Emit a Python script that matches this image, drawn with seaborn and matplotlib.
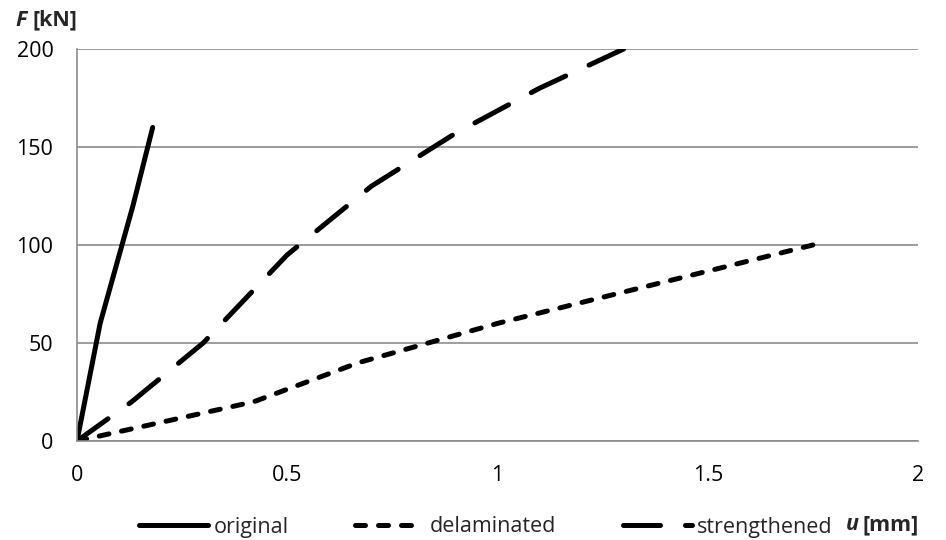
import matplotlib
matplotlib.use("Agg")
import matplotlib.pyplot as plt
import seaborn as sns
import pandas as pd
import numpy as np
from matplotlib.lines import Line2D

# ---- data ----
orig_u = [0.0, 0.055, 0.133, 0.18]
orig_F = [0, 60, 120, 160]

delam_u = [0.0, 0.42, 0.67, 1.0, 1.75]
delam_F = [0, 20, 40, 60, 100]

streng_u = [0.0, 0.13, 0.3, 0.5, 0.7, 0.9, 1.1, 1.3]
streng_F = [0, 20, 50, 95, 130, 157, 180, 200]

series_names = ["original", "delaminated", "strengthened"]
x_ticks = [0, 0.5, 1, 1.5, 2]
x_tick_labels = ["0", "0.5", "1", "1.5", "2"]
y_ticks = [0, 50, 100, 150, 200]

sns.set_style("white")
plt.rcParams["font.family"] = ["Open Sans", "DejaVu Sans"]

FS = 15.5
W, H = 946, 540
DPI = 100
fig = plt.figure(figsize=(W / DPI, H / DPI), dpi=DPI)
ax = fig.add_axes([77 / W, 1 - 441 / H, (918 - 77) / W, (441 - 49) / H])

gray = "#8c8c8c"
lw = 3.6
patterns = [None, (2.0, 2.6), (7.4, 5.0)]
datasets = [(orig_u, orig_F), (delam_u, delam_F), (streng_u, streng_F)]

ax.set_xlim(0, 2)
ax.set_ylim(0, 200)

handles = []
for name, (u, F), pat in zip(series_names, datasets, patterns):
    df = pd.DataFrame({"u": u, "F": F})
    ls = "-" if pat is None else (0, pat)
    sns.lineplot(data=df, x="u", y="F", ax=ax, color="black", lw=lw,
                 sort=False, estimator=None, linestyle=ls)
    line = ax.lines[-1]
    line.set_dash_capstyle("round")
    line.set_solid_capstyle("round")
    line.set_solid_joinstyle("round")
    line.set_dash_joinstyle("round")
    if pat is not None:
        # stretch the dash pattern slightly so the line ends on a dash
        pts = ax.transData.transform(np.column_stack([u, F]))
        L = np.sum(np.hypot(*np.diff(pts, axis=0).T)) * 72 / DPI  # points
        d, g = pat[0] * lw, pat[1] * lw
        n = max(1, round((L - d) / (d + g)))
        s = L / (n * (d + g) + d)
        line.set_linestyle((0, (pat[0] * s, pat[1] * s)))
    h = Line2D([0], [0], color="black", lw=lw, linestyle=ls)
    h.set_dash_capstyle("round")
    handles.append(h)

ax.set_xticks(x_ticks)
ax.set_xticklabels(x_tick_labels)
ax.set_yticks(y_ticks)
ax.set_xlabel("")
ax.set_ylabel("")

ax.grid(axis="y", color=gray, lw=1.2)
ax.grid(axis="x", visible=False)
ax.set_axisbelow(True)
for s_ in ["top", "right"]:
    ax.spines[s_].set_visible(False)
for s_ in ["left", "bottom"]:
    ax.spines[s_].set_color(gray)
    ax.spines[s_].set_linewidth(1.2)
ax.tick_params(axis="both", which="major", direction="out", length=6,
               width=1.2, color=gray, labelsize=FS, labelcolor="black")
ax.tick_params(axis="y", pad=11)
ax.tick_params(axis="x", pad=11)

# legend at bottom
leg = fig.legend(handles, series_names, loc="center", ncol=3,
                 bbox_to_anchor=(486 / W, 1 - 527 / H), frameon=False,
                 fontsize=FS, handlelength=3.2, handletextpad=0.25,
                 columnspacing=3.1, borderaxespad=0, borderpad=0)

# axis titles
fig.text(15 / W, 1 - 20 / H, "F", fontsize=FS, fontweight="bold",
         fontstyle="italic", ha="left", va="center")
fig.text(32 / W, 1 - 20 / H, "[kN]", fontsize=FS, fontweight="bold",
         ha="left", va="center")
fig.text(846 / W, 1 - 525 / H, "u", fontsize=FS, fontweight="bold",
         fontstyle="italic", ha="left", va="center")
fig.text(862 / W, 1 - 525 / H, "[mm]", fontsize=FS, fontweight="bold",
         ha="left", va="center")

fig.savefig("out.png", dpi=DPI)
